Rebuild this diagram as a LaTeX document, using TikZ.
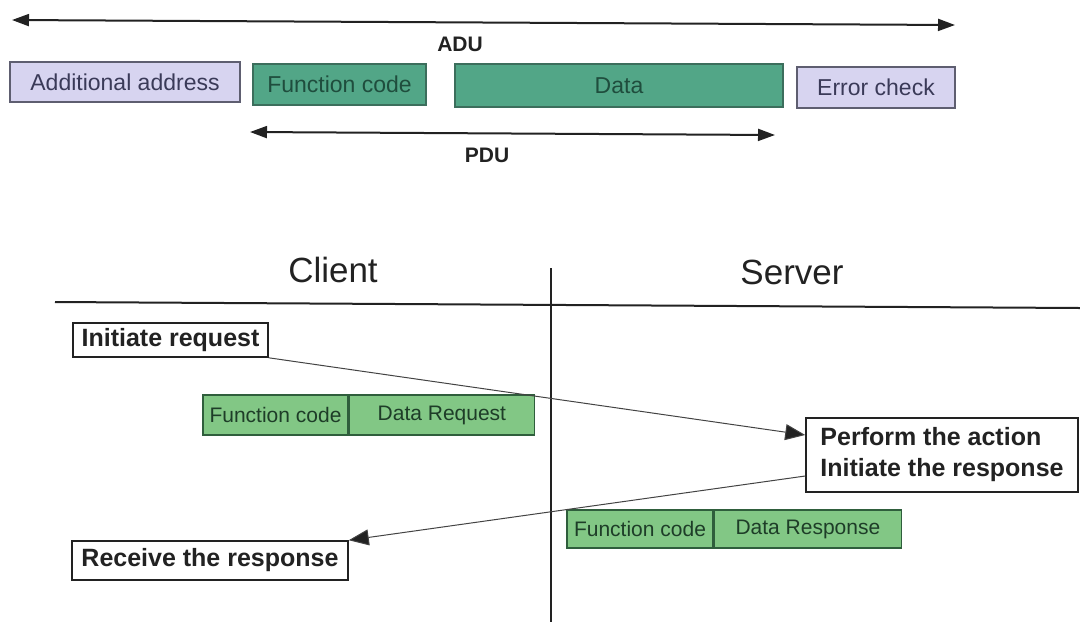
\documentclass[tikz,border=0pt]{standalone}
\usepackage{fontspec}
\setmainfont{Liberation Sans}
\usetikzlibrary{arrows.meta,positioning}
\definecolor{ink}     {HTML}{222222}
\definecolor{lav}     {HTML}{D7D4F0}
\definecolor{lavEdge} {HTML}{5E5E70}
\definecolor{lavText} {HTML}{3A3A58}
\definecolor{teal}    {HTML}{52A687}
\definecolor{tealEdge}{HTML}{3C6E5C}
\definecolor{tealText}{HTML}{1F4D3D}
\definecolor{pkt}     {HTML}{82C785}
\definecolor{pktEdge} {HTML}{2F5E3C}
\definecolor{pktText} {HTML}{1E3D28}

\tikzset{
  field/.style={draw, line width=0.8pt, inner sep=0pt,
                font=\fontsize{11.5}{14}\selectfont},
  lavbox/.style={field, fill=lav, draw=lavEdge, text=lavText},
  tealbox/.style={field, fill=teal, draw=tealEdge, text=tealText},
  pktbox/.style={draw=pktEdge, fill=pkt, text=pktText, line width=0.7pt,
                 inner sep=0pt, minimum height=20pt,
                 font=\fontsize{10.5}{12}\selectfont},
  stepbox/.style={draw=ink, fill=white, text=ink, line width=0.8pt,
                  inner sep=0pt, font=\fontsize{12.5}{15.5}\selectfont\bfseries},
  span/.style={draw=ink, line width=1pt,
               {Triangle[length=8.5pt,width=6pt]}-{Triangle[length=8.5pt,width=6pt]}},
  msg/.style={draw=ink!85, line width=0.5pt, -{Triangle[length=10pt,width=8pt,fill=ink]}},
  tag/.style={font=\fontsize{10.5}{12}\selectfont\bfseries, text=ink},
  side/.style={font=\fontsize{17.5}{20}\selectfont, text=ink}
}

\begin{document}
\begin{tikzpicture}[x=0.5pt, y=-0.5pt]
  \useasboundingbox (0,0) rectangle (1080,622);

  % frame layout: ADU around PDU
  \coordinate (adu-l) at (12,20);
  \coordinate (adu-r) at (955,25);
  \draw[span] (adu-l) -- (adu-r);
  \node[tag] (adu) at (460,44) {ADU};

  \node[lavbox,  minimum width=115pt, minimum height=20pt]   (addr)   at (125,82)    {Additional address};
  \node[tealbox, minimum width=86.5pt, minimum height=20.5pt] (fcode)  at (339.5,84.5) {Function code};
  \node[tealbox, minimum width=164pt, minimum height=21.5pt]  (data)   at (619,85.5)  {Data};
  \node[lavbox,  minimum width=79pt, minimum height=20.5pt]   (errchk) at (876,87.5)  {Error check};

  \coordinate (pdu-l) at (250,132);
  \coordinate (pdu-r) at (775,135);
  \draw[span] (pdu-l) -- (pdu-r);
  \node[tag] (pdu) at (487,155) {PDU};

  % client / server columns
  \node[side] (client) at (333,270) {Client};
  \node[side] (server) at (792,272) {Server};
  \coordinate (rule-l) at (55,302);
  \coordinate (rule-r) at (1080,308);
  \coordinate (mid-t) at (551,268);
  \coordinate (mid-b) at (551,622);
  \draw[ink, line width=1pt] (rule-l) -- (rule-r);
  \draw[ink, line width=1.2pt] (mid-t) -- (mid-b);

  % transaction steps
  \node[stepbox, minimum width=97.5pt, minimum height=17pt] (initreq) at (170.5,340) {Initiate request};
  \node[stepbox, minimum width=136pt, minimum height=37pt, align=left] (perform) at (942,455)
       {Perform the action\\Initiate the response};
  \node[stepbox, minimum width=138pt, minimum height=19.5pt] (recv) at (210,560.5) {Receive the response};

  % request and response frames
  \node[pktbox, minimum width=72.5pt] (reqfc)   at (275.5,415) {Function code};
  \node[pktbox, minimum width=92.5pt, right=0pt of reqfc] (reqdata) {Data Request};
  \node[pktbox, minimum width=73pt, minimum height=19pt] (rspfc) at (640,529) {Function code};
  \node[pktbox, minimum width=93.5pt, minimum height=19pt, right=0pt of rspfc] (rspdata) {Data Response};

  \draw[msg] (initreq.south east) -- ([yshift=10pt]perform.west);
  \draw[msg] ([yshift=-10.5pt]perform.west) -- (recv.north east);
\end{tikzpicture}
\end{document}
